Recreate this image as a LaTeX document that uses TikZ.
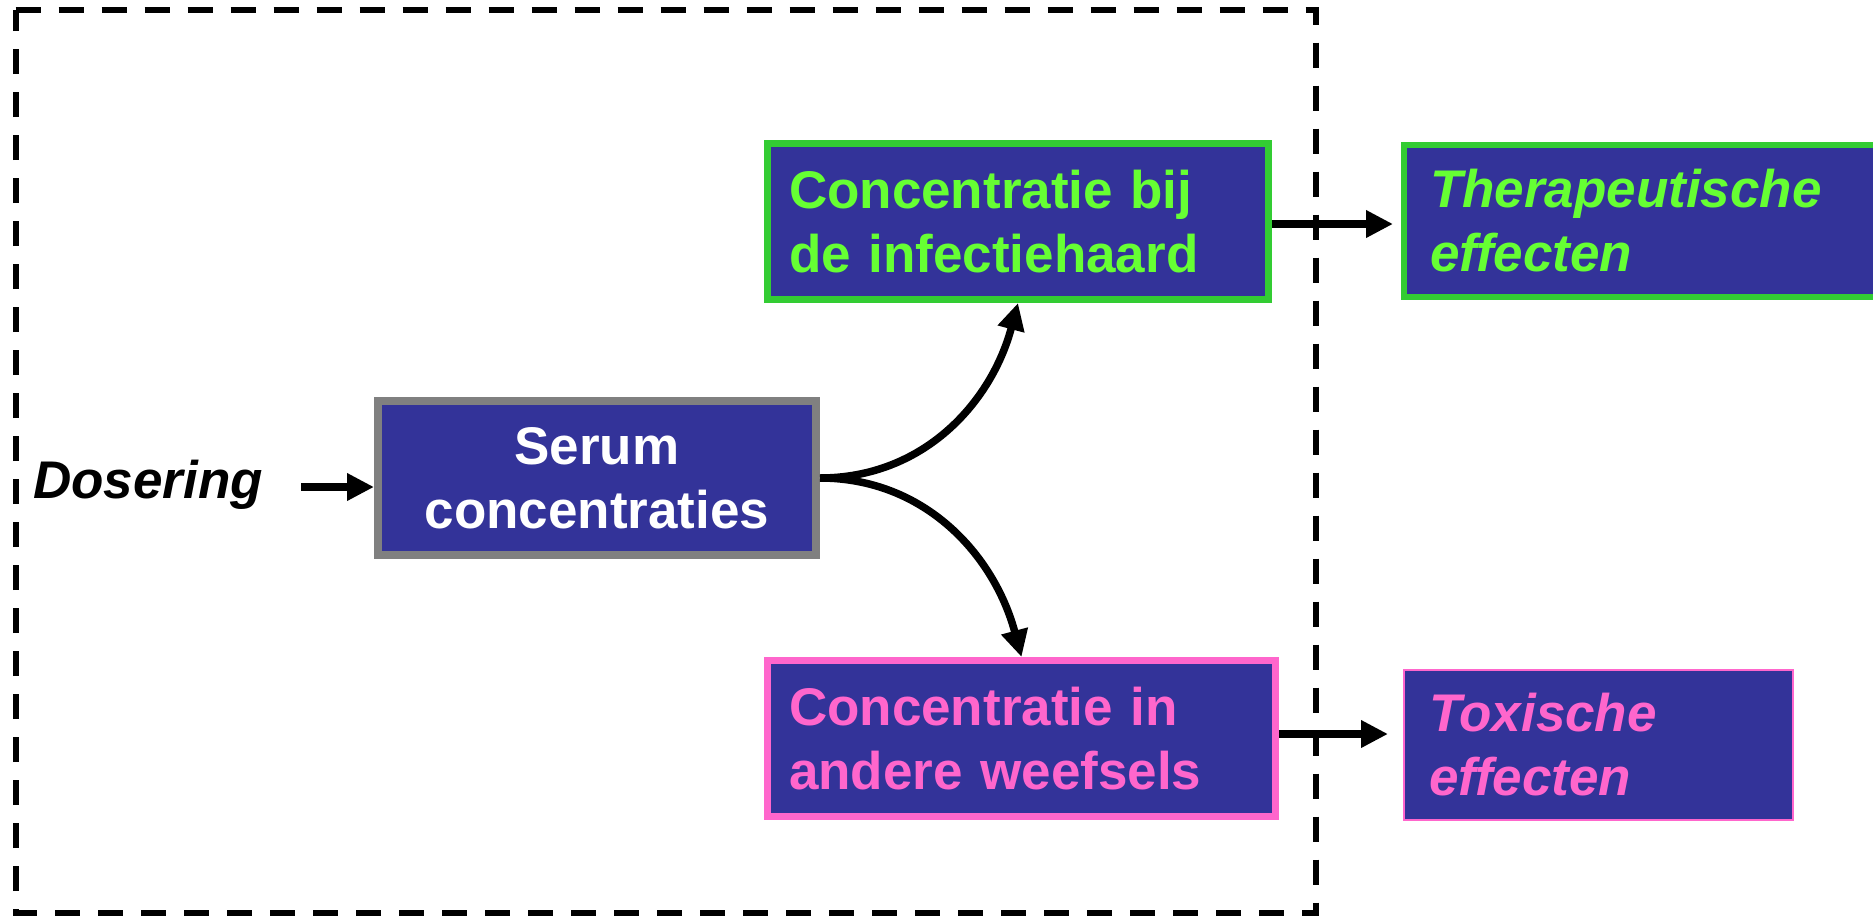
\documentclass[tikz,border=0pt]{standalone}
\usepackage{fontspec}
\setmainfont{Liberation Sans}
\usetikzlibrary{arrows.meta}
\definecolor{navy}{HTML}{333399}
\definecolor{lgreen}{HTML}{66FF33}
\definecolor{dgreen}{HTML}{33CC33}
\definecolor{pinkc}{HTML}{FF66CC}
\definecolor{greyc}{HTML}{808080}
\begin{document}
\begin{tikzpicture}[x=1pt,y=-1pt,
  box/.style={rectangle, fill=navy, inner sep=0pt, align=left,
    font=\bfseries\fontsize{53}{64}\selectfont},
  itbox/.style={box, font=\bfseries\itshape\fontsize{53}{64}\selectfont},
  arr/.style={line width=7.5pt, -{Triangle[length=27pt,width=26pt]}},
  frame/.style={line width=6pt, dash pattern=on 25pt off 18pt}
]
\useasboundingbox (0,0) rectangle (1873,916);

\draw[frame] (15.5,10) -- (1316,10) -- (1316,913) -- (15.5,913) -- cycle;

\node[box, draw=greyc, line width=8pt, minimum width=438pt, minimum height=154pt,
  text width=400pt, align=center, text=white] (serum) at (597,478)
  {Serum\\concentraties};

\node[box, draw=dgreen, line width=7pt, minimum width=501pt, minimum height=156pt,
  text width=458pt, text=lgreen] (conc) at (1018,221.5)
  {Concentratie bij\\de infectiehaard};

\node[itbox, draw=dgreen, line width=6pt, minimum width=496pt, minimum height=152pt,
  text width=444pt, text=lgreen] (ther) at (1652,221)
  {Therapeutische\\effecten};

\node[box, draw=pinkc, line width=7pt, minimum width=508pt, minimum height=156pt,
  text width=465pt, text=pinkc] (pink) at (1021.5,738.5)
  {Concentratie in\\andere weefsels};

\node[itbox, draw=pinkc, line width=2pt, minimum width=389pt, minimum height=150pt,
  text width=339pt, text=pinkc] (tox) at (1598.5,745)
  {Toxische\\effecten};

\node[anchor=base west, inner sep=0pt, font=\bfseries\itshape\fontsize{53}{64}\selectfont]
  (dos) at (33,498) {Dosering};

\draw[arr] ([xshift=38pt,yshift=11pt]dos.base east) -- ([yshift=-9pt]serum.west);
\draw[arr] (serum.east) to[out=0,in=-105] (conc.south);
\draw[arr] (serum.east) to[out=0,in=105] (pink.north);
\draw[arr] ([yshift=-2.5pt]conc.east) -- ([xshift=-8pt,yshift=-3pt]ther.west);
\draw[arr] ([yshift=4.5pt]pink.east) -- ([xshift=-15pt,yshift=11pt]tox.west);
\end{tikzpicture}
\end{document}
